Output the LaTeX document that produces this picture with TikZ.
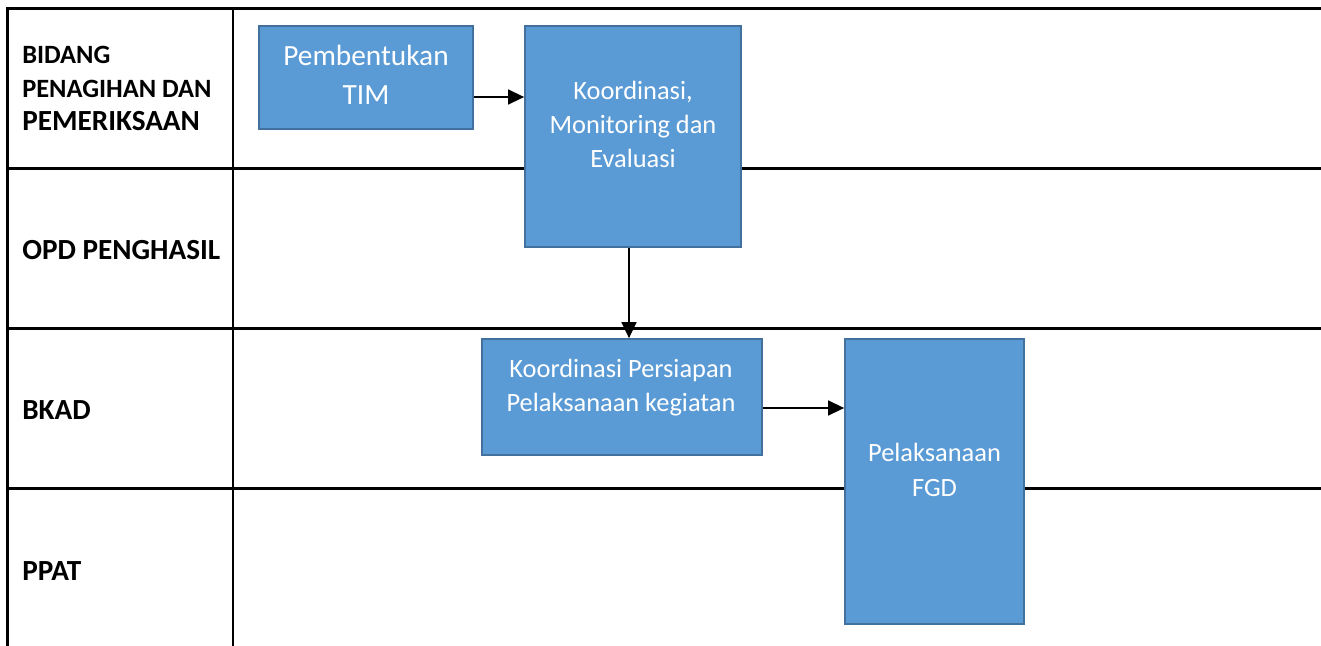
\documentclass[tikz,border=0pt]{standalone}
\usepackage{fontspec}
\setmainfont{Carlito}
\usetikzlibrary{arrows.meta}
\definecolor{boxfill}{HTML}{5B9BD5}
\definecolor{boxedge}{HTML}{41719C}
\begin{document}
\begin{tikzpicture}[x=0.75pt,y=-0.75pt,
  grid/.style={line width=1.7pt,black},
  stepbox/.style={draw=boxedge,fill=boxfill,line width=1.2pt,inner sep=0pt},
  boxtext/.style={anchor=base,inner sep=0pt,text=white,font=\fontsize{19.8pt}{24pt}\selectfont},
  bigtext/.style={anchor=base,inner sep=0pt,text=white,font=\fontsize{22pt}{26pt}\selectfont},
  lanelbl/.style={anchor=base west,inner sep=0pt,font=\bfseries\fontsize{19.8pt}{24pt}\selectfont},
  lanebig/.style={anchor=base west,inner sep=0pt,font=\bfseries\fontsize{21.9pt}{26pt}\selectfont},
  flow/.style={line width=1.7pt,-{Triangle[length=12pt,width=11pt]}}]
\useasboundingbox (0,0) rectangle (1321,646);

% swimlane table
\coordinate (tl) at (7.5,8.5);
\coordinate (bl) at (7.5,646);
\coordinate (tr) at (1321,8.5);
\coordinate (r1l) at (7.5,168.5);  \coordinate (r1r) at (1321,168.5);
\coordinate (r2l) at (7.5,328.5);  \coordinate (r2r) at (1321,328.5);
\coordinate (r3l) at (7.5,488.5);  \coordinate (r3r) at (1321,488.5);
\coordinate (dt) at (233,8.5);     \coordinate (db) at (233,646);
\draw[grid] (bl) -- (tl) -- (tr);
\draw[grid] (r1l) -- (r1r);
\draw[grid] (r2l) -- (r2r);
\draw[grid] (r3l) -- (r3r);
\draw[grid] (dt) -- (db);

% lane labels
\node[lanelbl] (l1a) at (22,63) {BIDANG};
\node[lanelbl] (l1b) at (22,97) {PENAGIHAN DAN};
\node[lanebig] (l1c) at (22,130) {PEMERIKSAAN};
\node[lanebig] (l2) at (22,259) {OPD PENGHASIL};
\node[lanebig] (l3) at (22,419) {BKAD};
\node[lanebig] (l4) at (22,580) {PPAT};

% process boxes
\node[stepbox,minimum width=214*0.75pt,minimum height=103*0.75pt] (b1) at (366,77.5) {};
\node[stepbox,minimum width=216*0.75pt,minimum height=221*0.75pt] (b2) at (633,136.5) {};
\node[stepbox,minimum width=280*0.75pt,minimum height=116*0.75pt] (b3) at (622,397) {};
\node[stepbox,minimum width=179*0.75pt,minimum height=285*0.75pt] (b4) at (934.5,481.5) {};

% box texts
\node[bigtext] (t1a) at (366,65) {Pembentukan};
\node[bigtext] (t1b) at (366,104) {TIM};
\node[boxtext] (t2a) at (633,99) {Koordinasi,};
\node[boxtext] (t2b) at (633,133) {Monitoring dan};
\node[boxtext] (t2c) at (633,167) {Evaluasi};
\node[boxtext] (t3a) at (621,377) {Koordinasi Persiapan};
\node[boxtext] (t3b) at (621,411) {Pelaksanaan kegiatan};
\node[boxtext] (t4a) at (934.5,461) {Pelaksanaan};
\node[boxtext] (t4b) at (934.5,496) {FGD};

% flow connectors
\draw[flow] (b1.east |- 0,97) -- (b2.west |- 0,97);
\draw[flow] (b2.south -| 629,0) -- (b3.north -| 629,0);
\draw[flow] (b3.east |- 0,408) -- (b4.west |- 0,408);
\end{tikzpicture}
\end{document}
